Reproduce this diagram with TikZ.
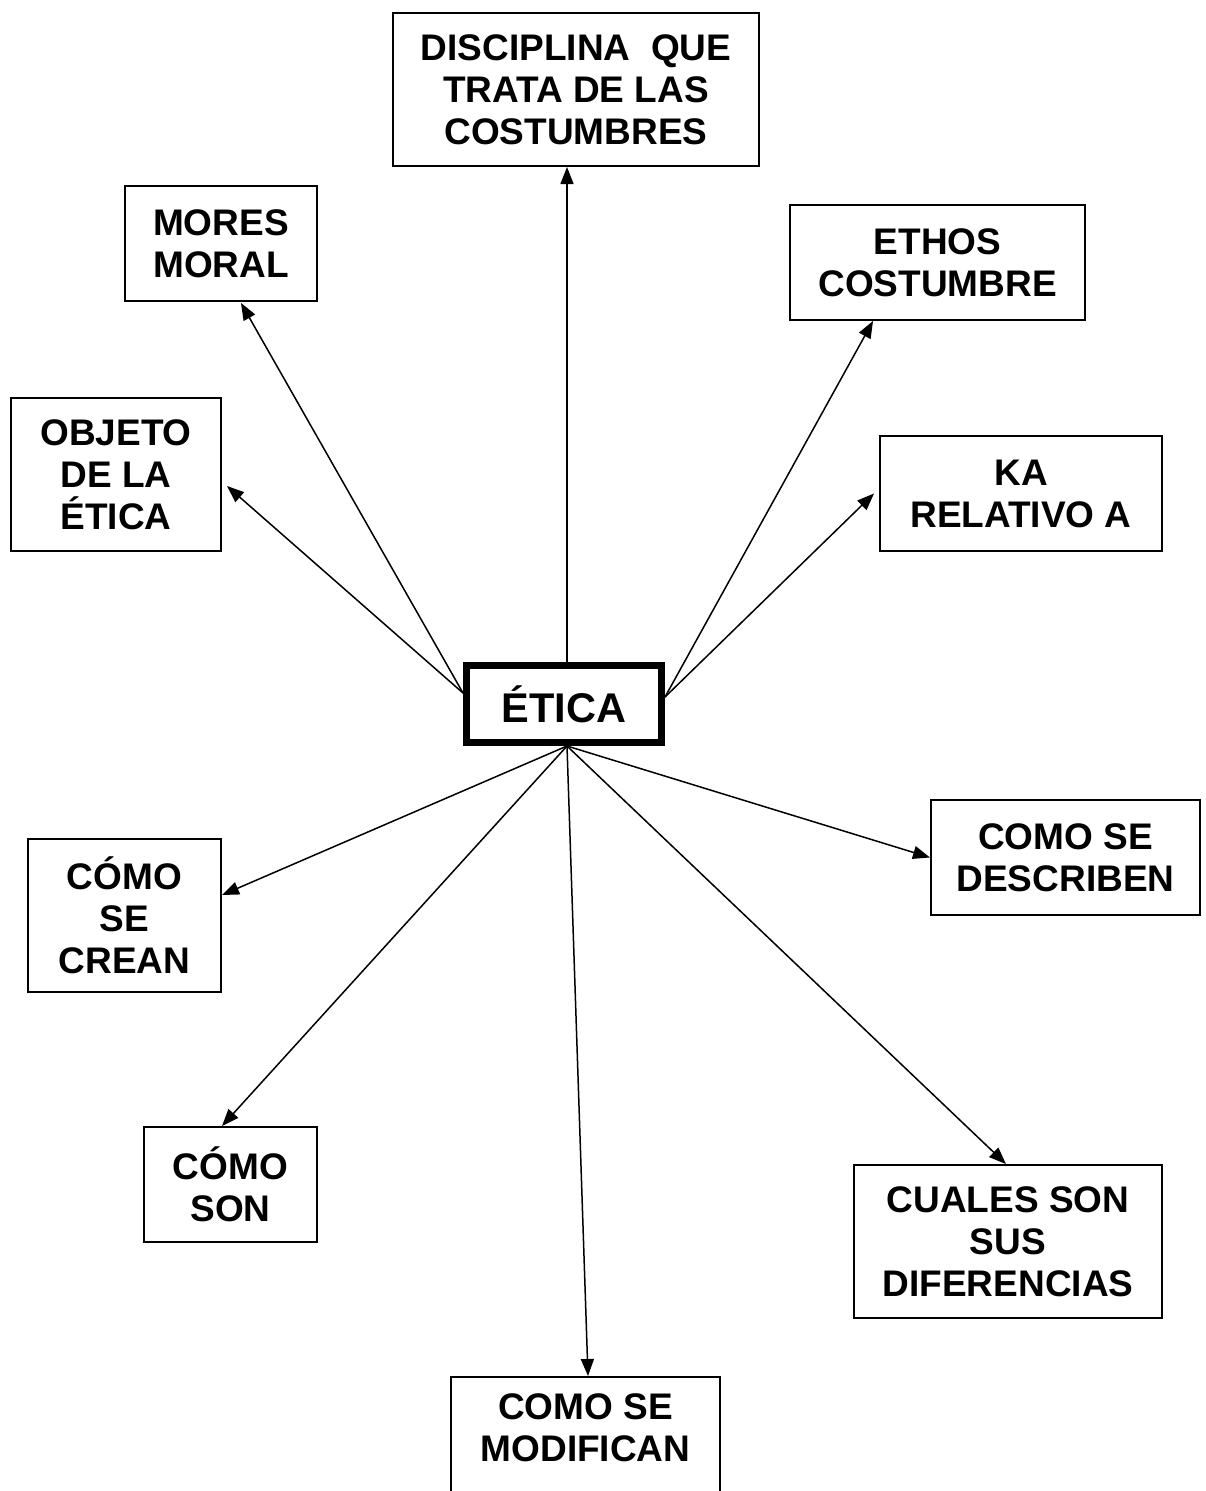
\documentclass[tikz,border=0pt]{standalone}
\usepackage{fontspec}
\setmainfont{Liberation Sans}
\usetikzlibrary{arrows.meta}
\begin{document}
\begin{tikzpicture}[x=1pt,y=-1pt,
  box/.style={draw, line width=2pt, rectangle, inner sep=0pt, align=center,
    font=\fontsize{37}{42}\selectfont\bfseries},
  arr/.style={line width=1.5pt, -{Triangle[length=17pt,width=13pt]}}]
\useasboundingbox[fill=white] (0,0) rectangle (1205,1491);
\node[draw, line width=7pt, rectangle, inner sep=0pt, minimum width=195pt, minimum height=77pt,
  font=\fontsize{41.5}{48}\selectfont\bfseries] (etica) at (564,704) {ÉTICA};
\node[box, minimum width=366pt, minimum height=153pt] (disc) at (576,89.5) {DISCIPLINA\ \ QUE\\TRATA DE LAS\\COSTUMBRES};
\node[box, minimum width=192pt, minimum height=115pt] (mores) at (221,243.5) {MORES\\MORAL};
\node[box, minimum width=295pt, minimum height=115pt] (ethos) at (937.5,262.5) {ETHOS\\COSTUMBRE};
\node[box, minimum width=210pt, minimum height=153pt] (objeto) at (116,474.5) {OBJETO\\DE LA\\ÉTICA};
\node[box, minimum width=282pt, minimum height=115pt] (ka) at (1021,493.5) {KA\\RELATIVO A};
\node[box, minimum width=269pt, minimum height=115pt] (desc) at (1065.5,857.5) {COMO SE\\DESCRIBEN};
\node[box, minimum width=193pt, minimum height=153pt] (crean) at (124.5,915.5) {CÓMO\\SE\\CREAN};
\node[box, minimum width=173pt, minimum height=115pt] (son) at (230.5,1184.5) {CÓMO\\SON};
\node[box, minimum width=308pt, minimum height=153pt] (dif) at (1008,1241.5) {CUALES SON\\SUS\\DIFERENCIAS};
\node[box, minimum width=269pt, minimum height=120pt, text depth=18pt] (modif) at (585.5,1437) {COMO SE\\MODIFICAN};
% connectors
\draw[arr] ([xshift=3pt]etica.north) -- ([xshift=3pt]etica.north |- disc.south);
\draw[arr] ([yshift=11pt]etica.west) -- ([xshift=20pt,yshift=-1pt]mores.south);
\draw[arr] ([yshift=11pt]etica.west) -- ([xshift=5pt,yshift=-11.5pt]objeto.east);
\draw[arr] ([yshift=7pt]etica.east) -- ([xshift=-64.5pt]ethos.south);
\draw[arr] ([yshift=7pt]etica.east) -- ([xshift=-5pt]ka.west);
\draw[arr] ([xshift=3pt]etica.south) -- (desc.west);
\draw[arr] ([xshift=3pt]etica.south) -- ([yshift=20.5pt]crean.east);
\draw[arr] ([xshift=3pt]etica.south) -- ([xshift=-8.5pt]son.north);
\draw[arr] ([xshift=3pt]etica.south) -- ([xshift=2.5pt]modif.north);
\draw[arr] ([xshift=3pt]etica.south) -- ([xshift=-2pt]dif.north);
\end{tikzpicture}
\end{document}
